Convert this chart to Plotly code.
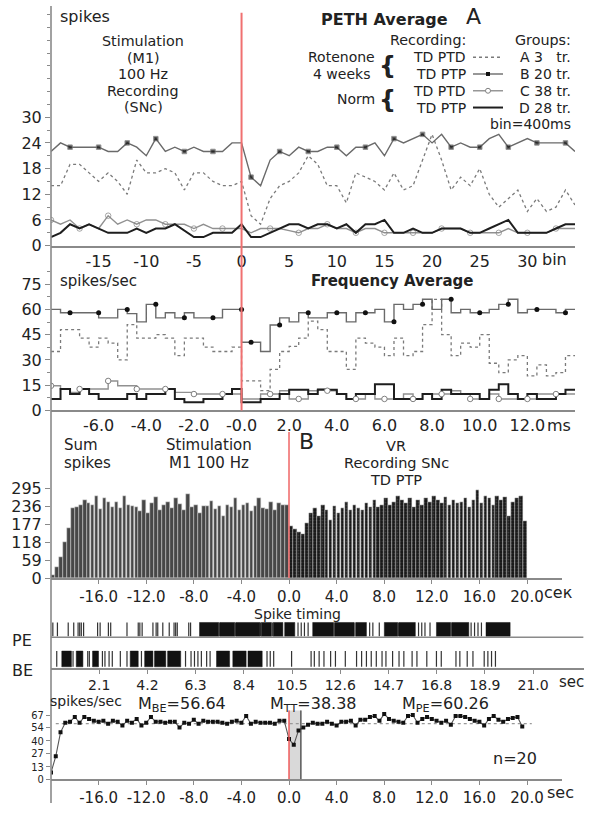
import plotly.graph_objects as go

W, H = 600, 813
FONT = "DejaVu Sans, Liberation Sans, Arial"


def px(x):
    return x / W


def py(y):
    return 1 - y / H


# ---------------- data: panel A, PETH average (bins, 400 ms) ----------------
peth_bins = list(range(-20, 36))
peth_A = [14, 14, 19, 19, 17, 15, 17, 15, 12, 20, 17, 17, 18, 17, 13, 17, 17, 15, 14, 14,
          15, 7, 5, 11, 14, 15, 17, 21, 19, 14, 14, 10, 17, 16, 15, 13, 17, 13, 14, 20,
          26, 20, 13, 16, 14, 18, 12, 9, 11, 13, 8, 11, 8, 9, 13, 9.5]
peth_B = [22, 24, 23, 23, 23, 23, 22, 22, 24, 23, 21, 25, 22, 23, 22, 23, 22, 22, 22, 24,
          24, 16, 14, 20, 22, 21, 23, 22, 22, 23, 23, 21, 23, 23, 24, 21, 25, 24, 25, 26,
          24, 26, 23, 24, 23, 23, 25, 26, 23, 24, 25, 24, 24, 24, 24, 22]
peth_C = [6, 5, 6, 4, 5, 4, 7, 5, 6, 5, 6, 6, 5, 5, 5, 4, 5, 4, 4, 4,
          4, 3, 4, 4, 4, 3.5, 3, 4, 4, 5, 4, 4, 3, 4, 4, 3, 3, 3, 3, 3,
          3, 4, 4, 4, 3, 3, 3, 3, 4, 3, 3, 3, 3, 4, 4, 4]
peth_D = [2, 3, 5, 4, 5, 4, 3, 3, 3, 4, 3, 4, 4, 5, 3.5, 2, 2, 3, 3, 3,
          5, 2, 2, 3, 4, 5, 5, 4, 5, 5, 4, 5, 3, 5, 5, 6, 3, 3, 4, 3,
          3, 4, 4, 4, 3, 3, 4, 5, 6, 3, 3, 3, 3, 4, 5, 5]
peth_xticks = [-15, -10, -5, 0, 5, 10, 15, 20, 25, 30]
peth_yticks = [0, 6, 12, 18, 24, 30]

# ---------------- data: frequency average (0.4 ms steps) ----------------
freq_start = -8.0
freq_step = 0.4
freq_A = [35, 48, 48, 43, 37.6, 43, 40, 30, 51, 43, 43, 45, 43, 32.5, 43, 43, 37.6, 35, 35, 37.6,
          17.5, 17.5, 11.7, 24.4, 35, 38, 43, 53, 48, 35, 35, 24.4, 43, 40, 37.6, 32.5, 43, 32.5, 35, 51,
          66, 45, 32.5, 40, 37.6, 45, 28, 22.4, 30, 32.5, 20.5, 27, 20.5, 22.4, 32.5]
freq_B = [60, 58, 58, 58, 58, 55, 55, 60, 57.5, 52.6, 63, 55, 58, 55, 58, 55, 55, 55, 60, 60,
          40.5, 40.5, 35, 50.7, 55, 52.6, 58, 55, 55, 58, 58, 52.6, 58, 58, 60, 52.6, 63, 60, 63, 66,
          60, 66, 58, 60, 58, 58, 60, 63, 66, 58, 60, 60, 60, 58, 60]
freq_C = [14.6, 12.7, 10.7, 12.7, 12.7, 12.7, 17.5, 14.6, 14.6, 12.7, 12.7, 12.7, 12.7, 10.7, 10.7, 9.7, 9.7, 9.7, 9.7, 9.7,
          6.8, 6.8, 9.7, 9.7, 11.7, 6.8, 6.8, 11.7, 12.7, 11.7, 9.7, 6.8, 6.8, 9.7, 6.8, 6.8, 6.8, 9.7, 6.8, 9.7,
          9.7, 9.7, 11.7, 9.7, 6.8, 6.8, 9.7, 6.8, 6.8, 6.8, 6.8, 9.7, 9.7, 9.7, 9.7]
freq_D = [6.8, 12.7, 9.7, 12.7, 9.7, 6.8, 6.8, 6.8, 9.7, 6.8, 9.7, 9.7, 12.7, 6.8, 4.9, 4.9, 6.8, 6.8, 9.7, 12.7,
          4.9, 4.9, 6.8, 6.8, 9.7, 12.2, 12.2, 9.7, 12.2, 12.2, 9.7, 6.8, 9.7, 9.7, 15.6, 15.6, 6.8, 6.8, 6.8, 9.7,
          6.8, 12.2, 9.7, 9.7, 9.7, 6.8, 12.2, 15.6, 9.7, 6.8, 9.7, 6.8, 6.8, 9.7, 12.2]
freq_xticks = [-6, -4, -2, 0, 2, 4, 6, 8, 10, 12]
freq_xtext = ["-6.0", "-4.0", "-2.0", "-0.0", "2.0", "4.0", "6.0", "8.0", "10.0", "12.0"]
freq_yticks = [0, 15, 30, 45, 60, 75]

# ---------------- data: panel B, sum spikes histogram ----------------
hist_bin = 1 / 3
hist_pre = [10, 35, 70, 120, 165, 230, 235, 240, 255, 248, 240, 270, 228, 262, 250, 235, 250, 230, 270, 240,
            236, 232, 220, 258, 215, 245, 265, 225, 240, 250, 230, 262, 242, 225, 275, 232, 240, 215, 238, 238,
            252, 228, 236, 205, 240, 232, 262, 225, 240, 248, 220, 236, 262, 230, 228, 250, 222, 245, 240, 240]
hist_post = [170, 160, 150, 145, 180, 215, 230, 205, 240, 225, 190, 238, 215, 230, 250, 225, 240, 230, 222, 245,
             235, 255, 232, 240, 262, 240, 250, 268, 258, 245, 262, 232, 255, 240, 262, 250, 270, 255, 245, 265,
             240, 258, 245, 250, 262, 235, 258, 290, 245, 270, 262, 240, 270, 255, 265, 205, 250, 262, 270, 188]
sec_xticks = [-16, -12, -8, -4, 0, 4, 8, 12, 16, 20]
hist_yticks = [0, 59, 118, 177, 236, 295]

# ---------------- data: spike raster (sec) ----------------
pe_spikes = [0.08, 0.28, 0.75, 0.99, 1.18, 1.25, 1.32, 1.42, 2.03, 2.14, 2.5, 2.6, 3.31, 3.8, 3.87, 3.97,
             4.44, 4.58, 4.65, 4.87, 5.15, 5.36, 5.43, 5.5, 6.0, 6.08, 7.33, 8.03, 9.13, 9.64,
             10.76, 10.9, 11.04, 11.2, 12.33, 13.24, 13.88, 14.02, 14.3, 15.13,
             16.01, 16.15, 16.29, 16.51, 17.43, 18.3, 18.45, 18.6, 18.75]
pe_bursts = [(6.47, 7.3), (7.36, 8.0), (8.06, 9.1), (9.16, 9.6), (9.68, 10.1), (10.18, 10.62),
             (11.4, 12.3), (12.36, 13.2), (13.28, 13.74), (14.52, 15.1), (15.16, 15.87),
             (16.79, 17.4), (17.46, 18.2), (18.95, 20.0)]
be_spikes = [0.25, 0.96, 1.6, 1.67, 2.24, 2.35, 2.53, 2.67, 3.02, 3.31, 3.94, 5.86, 6.1, 6.25, 6.4, 6.55,
             6.78, 6.93, 9.41, 9.55, 9.7, 10.48, 11.33, 11.47, 11.68, 11.89, 12.18, 12.39, 12.82, 13.31,
             13.53, 13.74, 13.95, 14.17, 14.42, 14.59, 14.88, 15.16, 15.37, 15.73, 15.94, 16.37, 16.79,
             17.0, 17.64, 17.81, 18.13, 18.38, 18.87, 19.03, 19.19, 19.36]
be_bursts = [(0.47, 0.89), (1.1, 1.39), (1.81, 2.07), (3.45, 3.8), (4.08, 4.44), (4.51, 5.0),
             (5.08, 5.65), (7.21, 7.78), (7.92, 8.5), (8.58, 9.2)]
raster_xticks = [2.1, 4.2, 6.3, 8.4, 10.5, 12.6, 14.7, 16.8, 18.9, 21.0]

# ---------------- data: bottom rate (0.4 s) ----------------
rate_step = 0.4
rate_pre = [7, 24, 49, 59, 60, 65, 59, 65, 63, 61, 60, 61, 58, 61, 60, 56, 61, 59, 63, 56,
            59, 65, 60, 60, 59, 60, 60, 54, 59, 58, 62, 58, 61, 60, 60, 60, 59, 58, 60, 61,
            59, 66, 58, 60, 59, 59, 59, 58, 61, 61]
rate_post = [42, 36, 51, 54, 57, 59, 58, 58, 60, 58, 56, 60, 60, 61, 56, 62, 62, 65, 66, 61,
             68, 63, 61, 60, 59, 66, 67, 59, 63, 65, 63, 61, 59, 61, 57, 66, 66, 65, 63, 61,
             60, 56, 63, 66, 62, 60, 63, 64, 65, 55]
rate_mean = 58
rate_yticks = [0, 13, 27, 40, 54, 67]

# =====================================================================
fig = go.Figure()
GRAY_AX = "#8a8a8a"

# ---- panel A traces ----
b_mark = [0 if x == 0 else (4.5 if ((x < 0 and (x + 18) % 3 == 0) or (x > 0 and (x - 1) % 3 == 0)) else 0)
          for x in peth_bins]
c_mark = [(5.5 if ((x < 0 and (x + 14) % 3 == 0) or (x > 0 and x % 3 == 0)) else 0) for x in peth_bins]
fig.add_trace(go.Scatter(x=peth_bins, y=peth_A, mode="lines",
                         line=dict(color="#7a7a7a", width=1.3, dash="dot"), xaxis="x", yaxis="y"))
fig.add_trace(go.Scatter(x=peth_bins, y=peth_C, mode="lines+markers",
                         line=dict(color="#909090", width=1.4),
                         marker=dict(symbol="circle-open", size=c_mark, color="#808080", line=dict(width=1)),
                         xaxis="x", yaxis="y"))
fig.add_trace(go.Scatter(x=peth_bins, y=peth_D, mode="lines",
                         line=dict(color="#1e1e1e", width=2), xaxis="x", yaxis="y"))
fig.add_trace(go.Scatter(x=peth_bins, y=peth_B, mode="lines+markers",
                         line=dict(color="#6a6a6a", width=1.4),
                         marker=dict(symbol="square", size=b_mark, color="#111"), xaxis="x", yaxis="y"))

# ---- frequency step traces ----
n_f = len(freq_B)
f_edges = [freq_start + freq_step * i for i in range(n_f + 1)]


def steps(vals):
    return f_edges, list(vals) + [vals[-1]]


for vals, color, width, dash in [(freq_A, "#7a7a7a", 1.3, "dot"), (freq_C, "#909090", 1.4, "solid"),
                                 (freq_D, "#1e1e1e", 2, "solid"), (freq_B, "#6a6a6a", 1.4, "solid")]:
    sx, sy = steps(vals)
    fig.add_trace(go.Scatter(x=sx, y=sy, mode="lines", line=dict(color=color, width=width, dash=dash, shape="hv"),
                             xaxis="x2", yaxis="y2"))
b_idx = [j for j in range(n_f) if (j < 20 and j % 3 == 1) or (j >= 20 and j % 3 == 2)]
fig.add_trace(go.Scatter(x=[f_edges[j + 1] for j in b_idx], y=[freq_B[j] for j in b_idx], mode="markers",
                         marker=dict(symbol="circle", size=5, color="#111"), xaxis="x2", yaxis="y2"))
c_idx = [j for j in range(n_f) if (j < 20 and j % 3 == 0) or (j >= 22 and j % 3 == 2)]
fig.add_trace(go.Scatter(x=[f_edges[j] for j in c_idx], y=[freq_C[j] for j in c_idx], mode="markers",
                         marker=dict(symbol="circle", size=5.5, color="white", line=dict(color="#808080", width=1)),
                         xaxis="x2", yaxis="y2"))

# ---- histogram ----
pre_x = [-20 + (i + 0.5) * hist_bin for i in range(len(hist_pre))]
post_x = [(i + 0.5) * hist_bin for i in range(len(hist_post))]
fig.add_trace(go.Bar(x=pre_x, y=hist_pre, width=hist_bin * 0.9,
                     marker=dict(color="#474747", line=dict(color="#d5d5d5", width=0.5)),
                     xaxis="x3", yaxis="y3"))
fig.add_trace(go.Bar(x=post_x, y=hist_post, width=hist_bin * 0.9,
                     marker=dict(color="#1a1a1a", line=dict(color="#d0d0d0", width=0.4),
                                 pattern=dict(shape=".", fgcolor="#6a6a6a", bgcolor="#161616", size=3, solidity=0.3)),
                     xaxis="x3", yaxis="y3"))


# ---- raster ----
def spike_xy(times, y0, y1):
    xs, ys = [], []
    for t in times:
        xs += [t, t, None]
        ys += [y0, y1, None]
    return xs, ys


def burst_xy(bursts, y0, y1):
    xs, ys = [], []
    for a, b in bursts:
        xs += [a, b, b, a, a, None]
        ys += [y0, y0, y1, y1, y0, None]
    return xs, ys


for spikes, bursts, y0, y1 in [(pe_spikes, pe_bursts, 32, 46), (be_spikes, be_bursts, 1, 17)]:
    sx, sy = spike_xy(spikes, y0, y1)
    fig.add_trace(go.Scatter(x=sx, y=sy, mode="lines", line=dict(color="#333", width=1.2),
                             xaxis="x4", yaxis="y4"))
    bx, by = burst_xy(bursts, y0, y1)
    fig.add_trace(go.Scatter(x=bx, y=by, mode="lines", fill="toself", fillcolor="#121212",
                             line=dict(color="#121212", width=0.5), xaxis="x4", yaxis="y4"))

# ---- bottom rate ----
rate_vals = rate_pre + rate_post
rate_x = [-20 + rate_step * i for i in range(len(rate_vals))]
fig.add_trace(go.Scatter(x=[-19.6, 20.4], y=[rate_mean, rate_mean], mode="lines",
                         line=dict(color="#999", width=1.2, dash="dot"), xaxis="x5", yaxis="y5"))
fig.add_trace(go.Scatter(x=rate_x, y=rate_vals, mode="lines+markers", line=dict(color="#555", width=1.1),
                         marker=dict(symbol="square", size=4, color="#111"), xaxis="x5", yaxis="y5"))

fig.update_traces(showlegend=False, hoverinfo="skip")

# =====================================================================
xl, xr_a, xr_b = px(51), px(575), px(562)
tickfont = dict(family=FONT, size=16, color="#222")
tickfont15 = dict(family=FONT, size=15, color="#222")
tickfont14 = dict(family=FONT, size=14, color="#222")


def xax(dom, rng, tv, tt, anchor, ticks="", font=None):
    return dict(domain=dom, range=rng, tickvals=tv, ticktext=tt, anchor=anchor, showline=True,
                linecolor=GRAY_AX, linewidth=1.5, ticks=ticks, ticklen=4, tickcolor=GRAY_AX,
                showgrid=False, zeroline=False, tickfont=font or tickfont, fixedrange=True)


def yax(dom, rng, tv, anchor, minor=None, font=None, ticklen=5):
    d = dict(domain=dom, range=rng, tickvals=tv, anchor=anchor, showline=False, ticks="outside",
             ticklen=ticklen, tickcolor=GRAY_AX, tickwidth=1.2, showgrid=False, zeroline=False,
             tickfont=font or tickfont, fixedrange=True)
    if minor:
        d["minor"] = dict(dtick=minor, ticks="outside", ticklen=3, tickcolor=GRAY_AX, showgrid=False)
    return d


fig.update_layout(
    width=W, height=H, margin=dict(l=0, r=0, t=0, b=0),
    paper_bgcolor="white", plot_bgcolor="rgba(0,0,0,0)",
    font=dict(family=FONT, color="#222"), barmode="overlay", bargap=0,
    xaxis=xax([xl, xr_a], [-20, 35], peth_xticks, [str(v) for v in peth_xticks], "y"),
    yaxis=yax([py(248), py(5)], [0, 56], peth_yticks, "x", minor=3),
    xaxis2=xax([xl, xr_a], [-8, 14], freq_xticks, freq_xtext, "y2"),
    yaxis2=yax([py(415), py(270)], [0, 85], freq_yticks, "x2", minor=7.5),
    xaxis3=xax([xl, xr_b], [-20, 22.94], sec_xticks, [f"{v:.1f}" for v in sec_xticks], "y3", ticks="outside",
               font=tickfont15),
    yaxis3=yax([py(585), py(437)], [0, 480], hist_yticks, "x3"),
    xaxis4=xax([xl, px(583.6)], [0, 23.2], raster_xticks, [f"{v:.1f}" for v in raster_xticks], "y4", ticks="outside",
               font=tickfont14),
    yaxis4=dict(domain=[py(676), py(628)], range=[0, 48], visible=False, anchor="x4", fixedrange=True),
    xaxis5=xax([xl, xr_b], [-20, 22.94], sec_xticks, [f"{v:.1f}" for v in sec_xticks], "y5", ticks="outside",
               font=tickfont15),
    yaxis5=yax([py(789), py(719)], [0, 72], rate_yticks, "x5", ticklen=4,
               font=dict(family="DejaVu Sans Condensed, Liberation Sans Narrow, " + FONT, size=11, color="#222")),
)

shapes = []
# continuous left axis line
shapes.append(dict(type="line", xref="paper", yref="paper", x0=px(51), x1=px(51), y0=py(5), y1=py(813),
                   line=dict(color=GRAY_AX, width=1.6)))
# red stimulus lines
shapes.append(dict(type="line", xref="x", yref="paper", x0=0, x1=0, y0=py(415), y1=py(12),
                   line=dict(color="#f07070", width=2)))
shapes.append(dict(type="line", xref="x3", yref="paper", x0=0, x1=0, y0=py(585), y1=py(437),
                   line=dict(color="#f07070", width=1.6)))
# bottom: gray stimulation window
shapes.append(dict(type="rect", xref="x5", yref="y5", x0=0, x1=1.0, y0=0, y1=72,
                   fillcolor="#d9d9d9", line=dict(width=0), layer="below"))
shapes.append(dict(type="line", xref="x5", yref="y5", x0=1.0, x1=1.0, y0=0, y1=72,
                   line=dict(color="#333", width=1.2)))
shapes.append(dict(type="line", xref="x5", yref="y5", x0=0, x1=0, y0=0, y1=72,
                   line=dict(color="#f05050", width=1.4)))
# raster PE baseline
shapes.append(dict(type="line", xref="x4", yref="y4", x0=0, x1=23.2, y0=31, y1=31,
                   line=dict(color=GRAY_AX, width=1.5)))

# legend samples in panel A
leg_rows = [57, 74, 91, 108]
for yy, col, dash, w in zip(leg_rows, ["#7a7a7a", "#6a6a6a", "#909090", "#1e1e1e"],
                            ["dot", "solid", "solid", "solid"], [1.3, 1.4, 1.4, 2]):
    shapes.append(dict(type="line", xref="paper", yref="paper", x0=px(473), x1=px(503), y0=py(yy), y1=py(yy),
                       line=dict(color=col, width=w, dash=dash)))
shapes.append(dict(type="rect", xref="paper", yref="paper", x0=px(486), x1=px(490),
                   y0=py(leg_rows[1] + 2), y1=py(leg_rows[1] - 2), fillcolor="#111", line=dict(width=0)))
shapes.append(dict(type="circle", xref="paper", yref="paper", x0=px(485.5), x1=px(490.5),
                   y0=py(leg_rows[2] + 2.5), y1=py(leg_rows[2] - 2.5),
                   fillcolor="white", line=dict(color="#808080", width=1)))
fig.update_layout(shapes=shapes)

anns = []


def ann(text, x, y, size=16, xanchor="center", bold=False, family=FONT, color="#222"):
    if bold:
        text = f"<b>{text}</b>"
    anns.append(dict(text=text, x=px(x), y=py(y), xref="paper", yref="paper", xanchor=xanchor,
                     yanchor="middle", showarrow=False, font=dict(size=size, family=family, color=color)))


S = 14  # stacked text size
# panel A texts
ann("spikes", 58, 16, 16, "left")
for i, t in enumerate(["Stimulation", "(M1)", "100 Hz", "Recording", "(SNc)"]):
    ann(t, 143, 41 + i * 16.7, S + 0.3)
ann("PETH Average", 384, 19, 16, bold=True)
ann("A", 473, 16, 22)
ann("Recording:", 468, 40, S + 0.3, "right")
ann("Groups:", 573, 40, S + 0.3, "right")
ann("Rotenone", 377, 57, S, "right")
ann("4 weeks", 372, 74, S, "right")
ann("Norm", 377, 99.5, S, "right")
ann("{", 388, 66, 24, bold=True)
ann("{", 388, 100, 24, bold=True)
for yy, lab in zip(leg_rows, ["TD PTD", "TD PTP", "TD PTD", "TD PTP"]):
    ann(lab, 468, yy, S, "right")
for yy, lab in zip(leg_rows, ["A 3   tr.", "B 20 tr.", "C 38 tr.", "D 28 tr."]):
    ann(lab, 573, yy, S, "right")
ann("bin=400ms", 573, 125, S, "right")
ann("bin", 540, 262, 16, "left")

# frequency panel texts
ann("spikes/sec", 58, 283.5, 15, "left")
ann("Frequency Average", 392, 283.5, 15, bold=True)
ann("ms", 545, 430, 16, "left")

# panel B texts
ann("Sum", 62, 450, 15, "left")
ann("spikes", 62, 468, 15, "left")
ann("Stimulation", 209, 450, 15)
ann("M1 100 Hz", 209, 468, 15)
ann("B", 306, 447, 22)
ann("VR", 396, 451, S + 0.5)
ann("Recording SNc", 396, 468.5, S + 0.5)
ann("TD PTP", 396, 486, S + 0.5)
ann("сек", 542, 600, 16, "left")
ann("Spike timing", 297, 621, 14)
ann("PE", 22, 648, 16)
ann("BE", 22, 679, 16)
ann("sec", 557, 690, 15, "left")

# bottom texts
ann("spikes/sec", 48, 709.5, 14, "left")
ann("M<sub>BE</sub>=56.64", 136, 713, 16, "left")
ann("M<sub>TT</sub>=38.38", 268, 713, 16, "left")
ann("M<sub>PE</sub>=60.26", 400, 713, 16, "left")
ann("n=20", 515, 768, 16)
ann("sec", 545, 802, 16, "left")
fig.update_layout(annotations=anns)

fig.write_html("out.html", config={"displayModeBar": False},
               post_script="document.body.style.margin='0px';document.documentElement.style.overflow='hidden';")
